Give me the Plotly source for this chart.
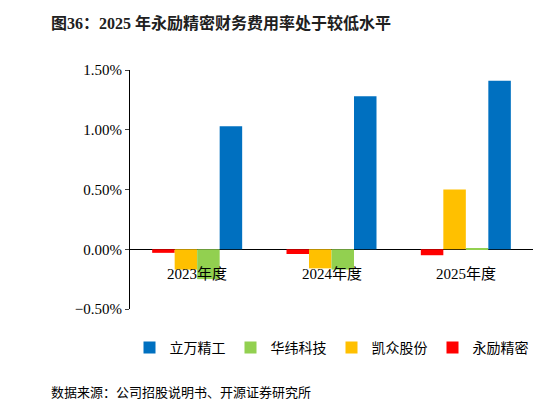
import plotly.graph_objects as go

years = ["2023年度", "2024年度", "2025年度"]
yongli = [-0.0003, -0.0004, -0.0005]
kaizhong = [-0.0017, -0.0016, 0.0050]
huawei = [-0.0025, -0.0017, 0.0001]
liwan = [0.0103, 0.0128, 0.0141]

font = "Liberation Serif, Noto Sans CJK SC"
fig = go.Figure()
for name, vals, color in [("永励精密", yongli, "#ff0000"), ("凯众股份", kaizhong, "#ffc000"),
                          ("华纬科技", huawei, "#92d050"), ("立万精工", liwan, "#0070c0")]:
    fig.add_bar(x=years, y=vals, name=name, marker_color=color, marker_line_width=0)

for yr in years:
    fig.add_annotation(x=yr, y=-0.0021, text=yr, showarrow=False, font=dict(size=15, color="black"))

fig.add_annotation(xref="paper", yref="paper", x=-0.2, y=1.197, xanchor="left", yanchor="middle",
                   showarrow=False, text="<b>图36：2025 年永励精密财务费用率处于较低水平</b>",
                   font=dict(size=16, color="#202020"))
fig.add_annotation(xref="paper", yref="paper", x=-0.2, y=-0.35, xanchor="left", yanchor="middle",
                   showarrow=False, text="数据来源：公司招股说明书、开源证券研究所",
                   font=dict(size=13, color="black"))

fig.update_layout(
    width=546, height=405, template="none", plot_bgcolor="white", paper_bgcolor="white",
    margin=dict(l=122, r=21, t=62, b=104), font=dict(family=font, size=14, color="black"),
    barmode="group", bargap=0.33, bargroupgap=0,
    legend=dict(orientation="h", x=0.5, xanchor="center", y=-0.163, yanchor="middle",
                traceorder="reversed", font=dict(size=14)),
    showlegend=True,
)
fig.update_xaxes(showticklabels=False, showgrid=False, showline=False, zeroline=False)
fig.update_yaxes(range=[-0.005, 0.015], dtick=0.005, tickformat=".2%", showgrid=False,
                 showline=True, linecolor="black", ticks="outside", ticklen=4,
                 zeroline=True, zerolinecolor="black", zerolinewidth=1, tickfont=dict(size=15))
fig.write_html("out.html")
